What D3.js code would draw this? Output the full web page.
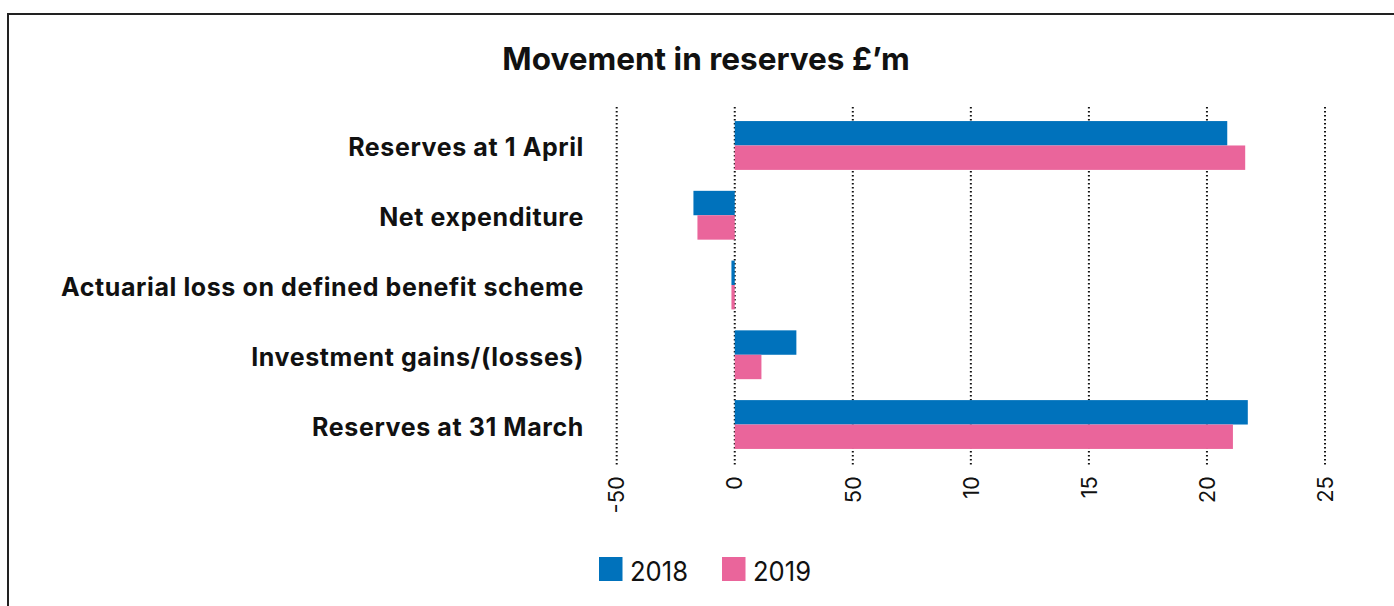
<!DOCTYPE html>
<html>
<head>
<meta charset="utf-8">
<script src="https://cdn.jsdelivr.net/npm/d3@7"></script>
<style>
  body { margin: 0; background: #fff; }
  svg { display: block; font-family: Inter, "Noto Sans", sans-serif; }
</style>
</head>
<body>
<div id="chart"></div>
<script>
// chart data
const categories = [
  "Reserves at 1 April",
  "Net expenditure",
  "Actuarial loss on defined benefit scheme",
  "Investment gains/(losses)",
  "Reserves at 31 March"
];
const series = ["2018", "2019"];
const values2018 = [20.86, -1.75, -0.14, 2.61, 21.73];
const values2019 = [21.62, -1.58, -0.14, 1.13, 21.1];
const tickValues = [-5, 0, 5, 10, 15, 20, 25];
const tickLabels = ["-50", "0", "50", "10", "15", "20", "25"];
const colors = ["#0072bc", "#ea659b"];

const width = 1394, height = 606;

const svg = d3.select("#chart")
  .append("svg")
  .attr("width", width)
  .attr("height", height);

// frame
svg.append("rect")
  .attr("x", 8)
  .attr("y", 14)
  .attr("width", 1400)
  .attr("height", 600)
  .attr("fill", "none")
  .attr("stroke", "#222")
  .attr("stroke-width", 2);

// title
svg.append("text")
  .attr("x", 706)
  .attr("y", 70)
  .attr("text-anchor", "middle")
  .attr("font-size", 31.5)
  .attr("font-weight", 700)
  .attr("fill", "#111")
  .text("Movement in reserves £’m");

const x = d3.scaleLinear().domain([-5, 25]).range([616.7, 1325]);
const y = d3.scaleBand().domain(categories).range([110.6, 459.4]).paddingInner(0.3).paddingOuter(0.15);
const ySub = d3.scaleBand().domain(series).range([0, y.bandwidth()]);

// dotted gridlines
svg.append("g")
  .selectAll("line")
  .data(tickValues)
  .join("line")
  .attr("x1", d => x(d))
  .attr("x2", d => x(d))
  .attr("y1", 107)
  .attr("y2", 465)
  .attr("stroke", "#111")
  .attr("stroke-width", 2)
  .attr("stroke-dasharray", "1.5,2.5");

// bars
const rows = categories.map((c, i) => ({ cat: c, vals: [values2018[i], values2019[i]] }));
const groups = svg.append("g")
  .selectAll("g")
  .data(rows)
  .join("g")
  .attr("transform", d => `translate(0,${y(d.cat)})`);

groups.selectAll("rect")
  .data(d => d.vals.map((v, j) => ({ key: series[j], v, j })))
  .join("rect")
  .attr("x", d => x(Math.min(0, d.v)))
  .attr("width", d => Math.abs(x(d.v) - x(0)))
  .attr("y", d => ySub(d.key))
  .attr("height", ySub.bandwidth())
  .attr("fill", d => colors[d.j]);

// category labels
svg.append("g")
  .selectAll("text")
  .data(categories)
  .join("text")
  .attr("x", 584)
  .attr("y", d => y(d) + y.bandwidth() / 2 + 11)
  .attr("text-anchor", "end")
  .attr("font-size", 25)
  .attr("font-weight", 700)
  .attr("letter-spacing", 0.6)
  .attr("fill", "#111")
  .text(d => d);

// x tick labels, rotated
svg.append("g")
  .selectAll("text")
  .data(tickValues)
  .join("text")
  .attr("transform", d => `translate(${x(d)},476) rotate(-90)`)
  .attr("dy", "0.35em")
  .attr("text-anchor", "end")
  .attr("font-size", 22)
  .attr("fill", "#111")
  .text((d, i) => tickLabels[i]);

// legend
const legend = svg.append("g")
  .selectAll("g")
  .data(series)
  .join("g")
  .attr("transform", (d, i) => `translate(${599 + i * 123},557)`);

legend.append("rect")
  .attr("width", 23.5)
  .attr("height", 24)
  .attr("fill", (d, i) => colors[i]);

legend.append("text")
  .attr("x", 31)
  .attr("y", 24)
  .attr("font-size", 27)
  .attr("textLength", 58)
  .attr("lengthAdjust", "spacingAndGlyphs")
  .attr("fill", "#111")
  .text(d => d);
</script>
</body>
</html>
